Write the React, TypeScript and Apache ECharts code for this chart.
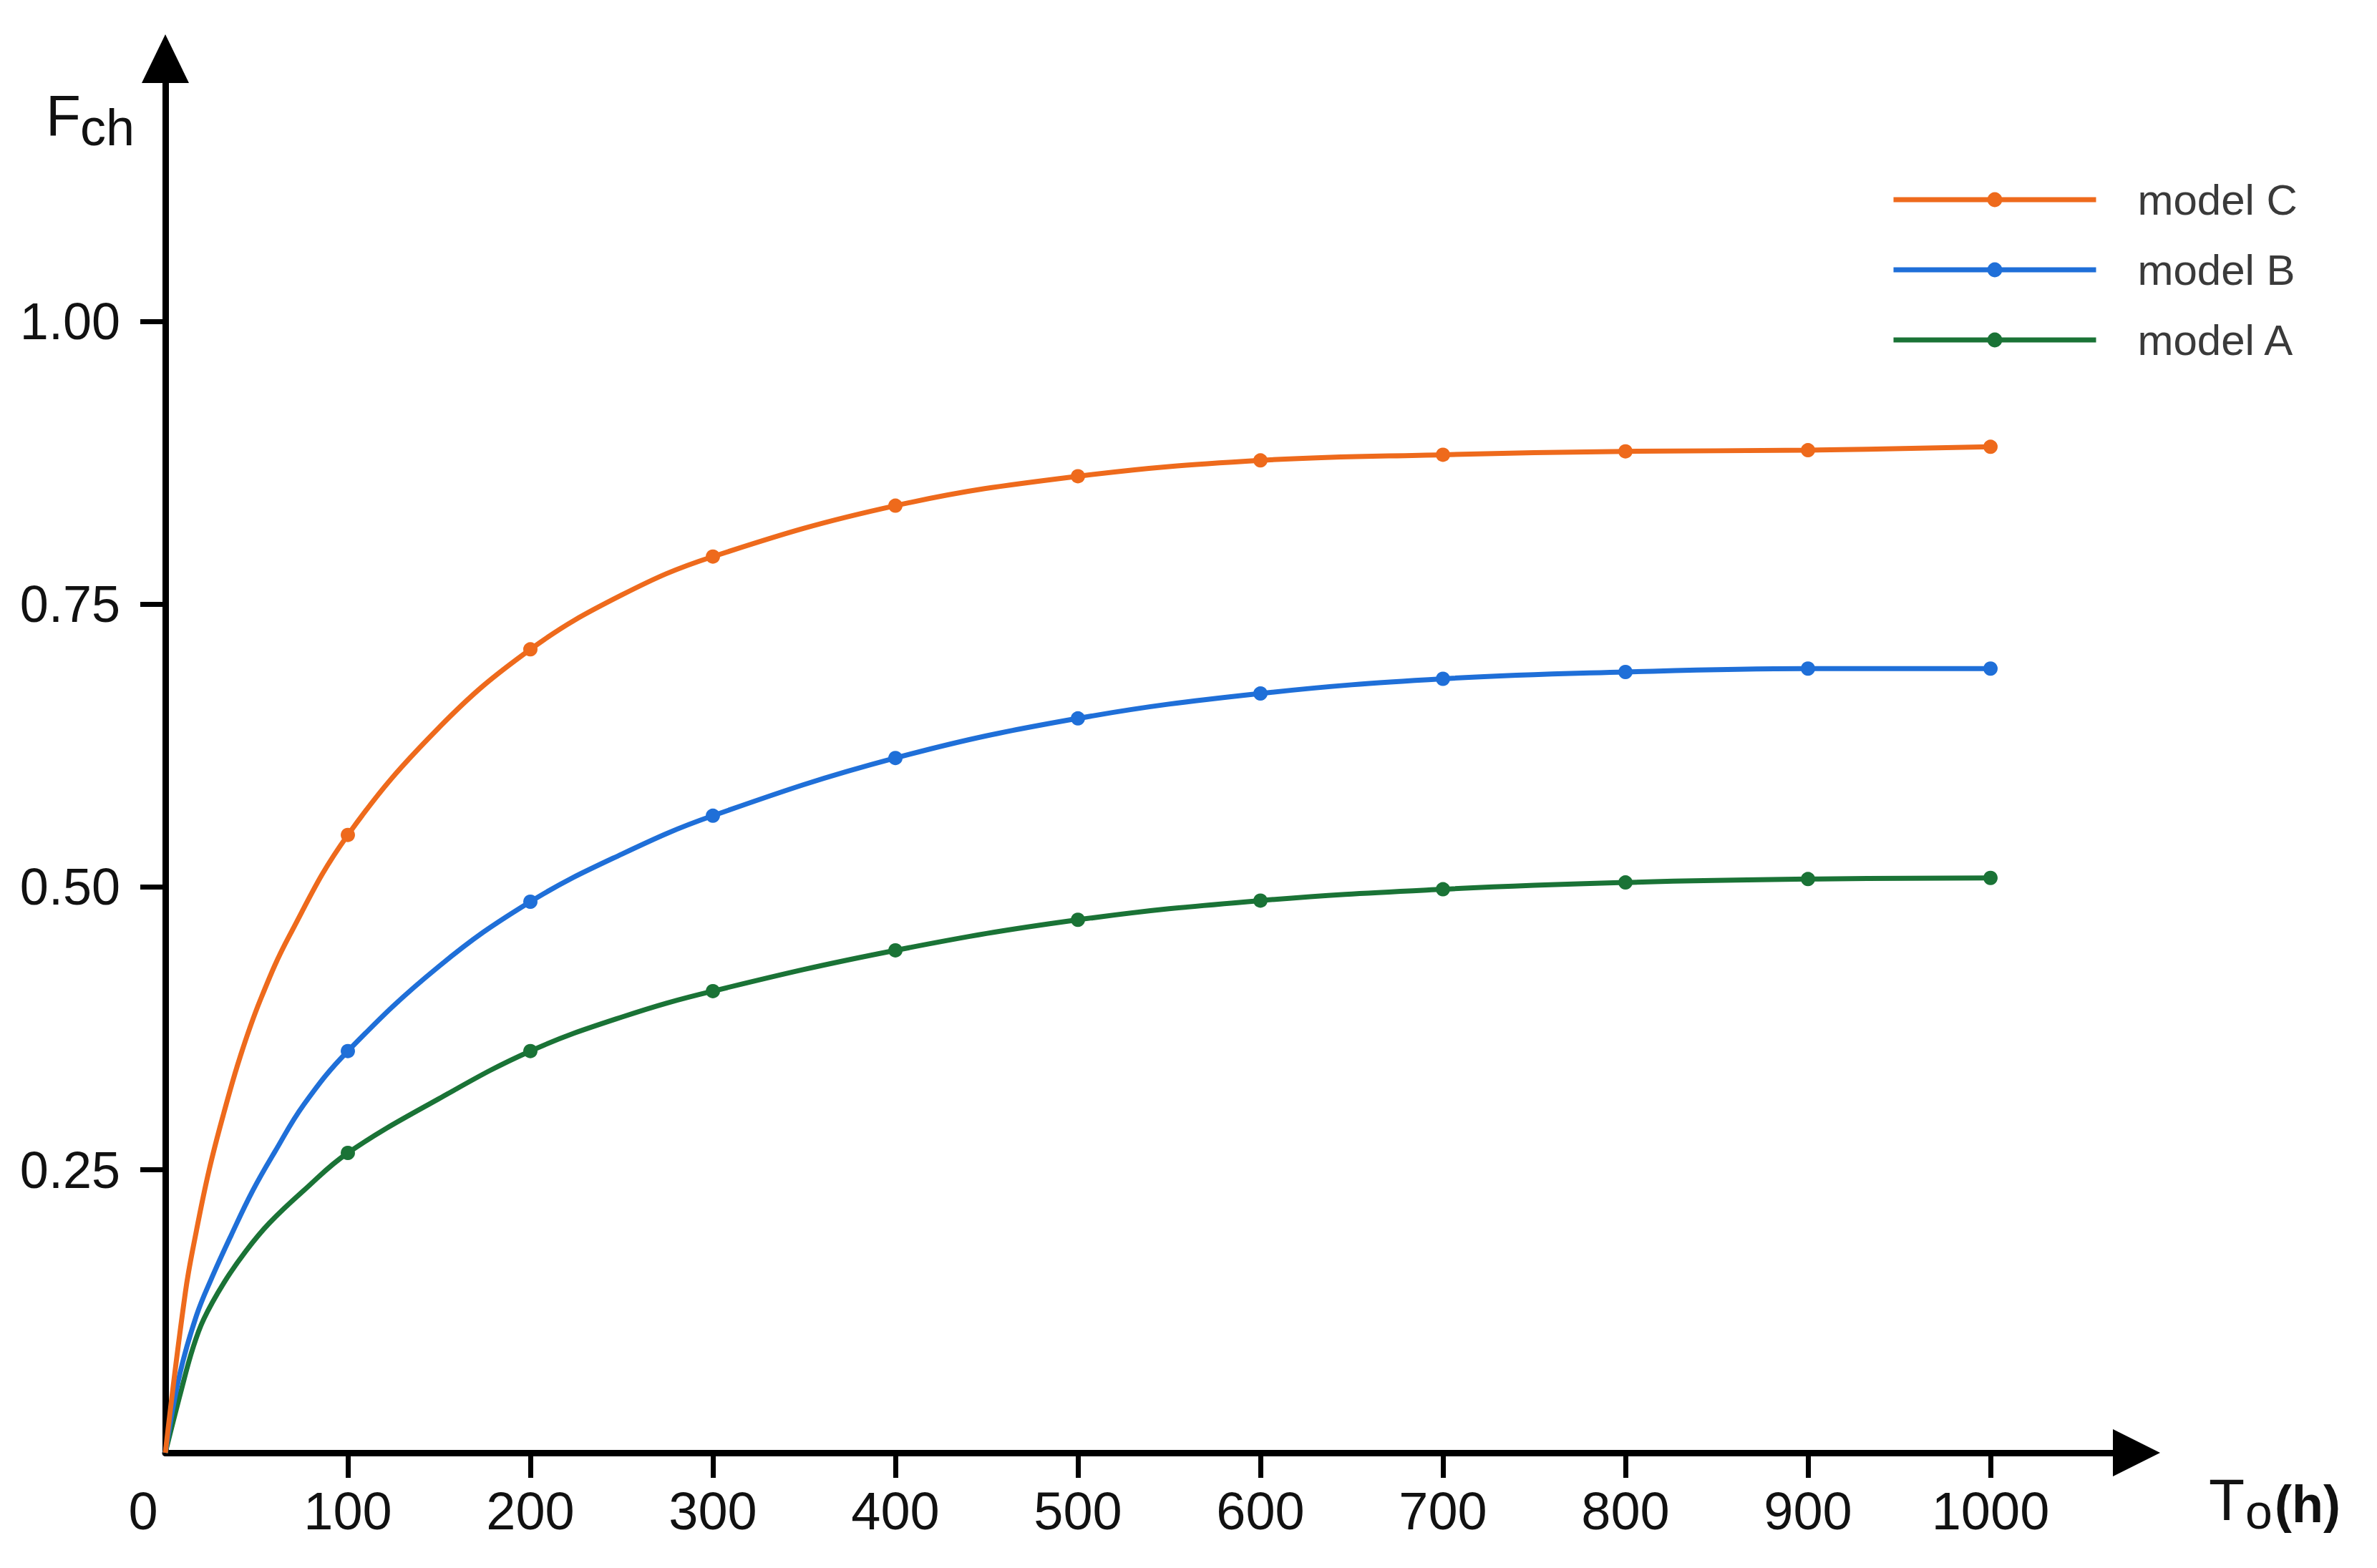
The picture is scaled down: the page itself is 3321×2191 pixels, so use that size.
import React, { useEffect, useRef } from "react";
import * as echarts from "echarts";

const FONT = "'Liberation Sans', Arial, sans-serif";

// marked points (hours)
const hours = [100, 200, 300, 400, 500, 600, 700, 800, 900, 1000];
const modelC = [0.546, 0.71, 0.792, 0.837, 0.863, 0.877, 0.882, 0.885, 0.886, 0.889];
const modelB = [0.355, 0.487, 0.563, 0.614, 0.649, 0.671, 0.684, 0.69, 0.693, 0.693];
const modelA = [0.265, 0.355, 0.408, 0.444, 0.471, 0.488, 0.498, 0.504, 0.507, 0.508];

// unmarked points of the curves (no marker in the picture)
const curveHoursC = [0, 11, 17, 24, 32, 41, 52, 68, 150, 250];
const curveC = [0, 0.142, 0.196, 0.25, 0.3, 0.35, 0.4, 0.457, 0.641, 0.758];
const curveHoursB = [0, 8, 17, 25, 36, 48, 60, 76, 150, 250];
const curveB = [0, 0.07, 0.121, 0.153, 0.192, 0.232, 0.266, 0.308, 0.43, 0.529];
const curveHoursA = [0, 9, 15, 21, 32, 44, 57, 76, 150, 250];
const curveA = [0, 0.057, 0.092, 0.118, 0.15, 0.178, 0.203, 0.232, 0.313, 0.385];

const xTickValues = [100, 200, 300, 400, 500, 600, 700, 800, 900, 1000];
const xLabelValues = [0, 100, 200, 300, 400, 500, 600, 700, 800, 900, 1000];
const yTickValues = [0.25, 0.5, 0.75, 1.0];

const seriesNames = ["model C", "model B", "model A"];
const seriesColors = ["#EE6A1C", "#1F6FD8", "#1A7336"];

function buildData(curveHours: number[], curve: number[], marked: number[]) {
  const out: any[] = [];
  curveHours.forEach((h, i) => out.push({ value: [h, curve[i]], symbol: "none" }));
  hours.forEach((h, i) => out.push({ value: [h, marked[i]] }));
  out.sort((a, b) => a.value[0] - b.value[0]);
  return out;
}

export default function App() {
  const ref = useRef<HTMLDivElement>(null);
  useEffect(() => {
    if (!ref.current) return;
    const chart = echarts.init(ref.current, undefined, { renderer: "svg" });
    const datasets = [
      buildData(curveHoursC, curveC, modelC),
      buildData(curveHoursB, curveB, modelB),
      buildData(curveHoursA, curveA, modelA),
    ];
    const option: any = {
      animation: false,
      backgroundColor: "#ffffff",
      grid: { left: 231, right: 336, top: 82, bottom: 161, containLabel: false },
      legend: {
        orient: "vertical",
        left: 2637,
        top: 244,
        itemWidth: 283,
        itemHeight: 26,
        itemGap: 38,
        data: seriesNames,
        lineStyle: { width: 7 },
        textStyle: { fontSize: 60, color: "#3a3a3a", fontFamily: FONT, padding: [0, 0, 0, 53] },
      },
      xAxis: {
        type: "value",
        min: 0,
        max: 1080,
        interval: 100,
        axisLine: {
          show: true,
          symbol: ["none", "triangle"],
          symbolSize: [66, 66],
          lineStyle: { color: "#000", width: 9 },
        },
        axisTick: { show: true, length: 35, lineStyle: { color: "#000", width: 7 }, customValues: xTickValues },
        axisLabel: {
          customValues: xLabelValues,
          margin: 44,
          fontSize: 74,
          color: "#111",
          fontFamily: FONT,
          formatter: (v: number) => (v === 0 ? "{z|0}" : String(v)),
          rich: { z: { fontSize: 74, color: "#111", fontFamily: FONT, padding: [0, 62, 0, 0] } },
        },
        splitLine: { show: false },
      },
      yAxis: {
        type: "value",
        min: 0,
        max: 1.232,
        interval: 0.25,
        axisLine: {
          show: true,
          symbol: ["none", "triangle"],
          symbolSize: [66, 68],
          lineStyle: { color: "#000", width: 9 },
        },
        axisTick: { show: true, length: 35, lineStyle: { color: "#000", width: 7 }, customValues: yTickValues },
        axisLabel: {
          customValues: yTickValues,
          margin: 63,
          fontSize: 72,
          color: "#111",
          fontFamily: FONT,
          formatter: (v: number) => v.toFixed(2),
        },
        splitLine: { show: false },
      },
      graphic: [
        { type: "text", style: { x: 64, y: 161, text: "F", font: `80px ${FONT}`, fill: "#111", verticalAlign: "middle" } },
        { type: "text", style: { x: 112, y: 178, text: "ch", font: `72px ${FONT}`, fill: "#111", verticalAlign: "middle" } },
        { type: "text", style: { x: 3086, y: 2095, text: "T", font: `82px ${FONT}`, fill: "#111", verticalAlign: "middle" } },
        { type: "text", style: { x: 3137, y: 2112, text: "o", font: `68px ${FONT}`, fill: "#111", verticalAlign: "middle" } },
        { type: "text", style: { x: 3178, y: 2102, text: "(h)", font: `bold 72px ${FONT}`, fill: "#111", verticalAlign: "middle" } },
      ],
      series: seriesNames.map((name, i) => ({
        name,
        type: "line",
        data: datasets[i],
        smooth: 0.4,
        symbol: "circle",
        symbolSize: 20,
        showSymbol: true,
        lineStyle: { width: 7, color: seriesColors[i] },
        itemStyle: { color: seriesColors[i] },
        z: 3 - i,
      })),
    };
    chart.setOption(option);
    return () => chart.dispose();
  }, []);
  return (
    <div
      ref={ref}
      style={{ position: "fixed", left: 0, top: 0, width: 3321, height: 2191, background: "#fff" }}
    />
  );
}
